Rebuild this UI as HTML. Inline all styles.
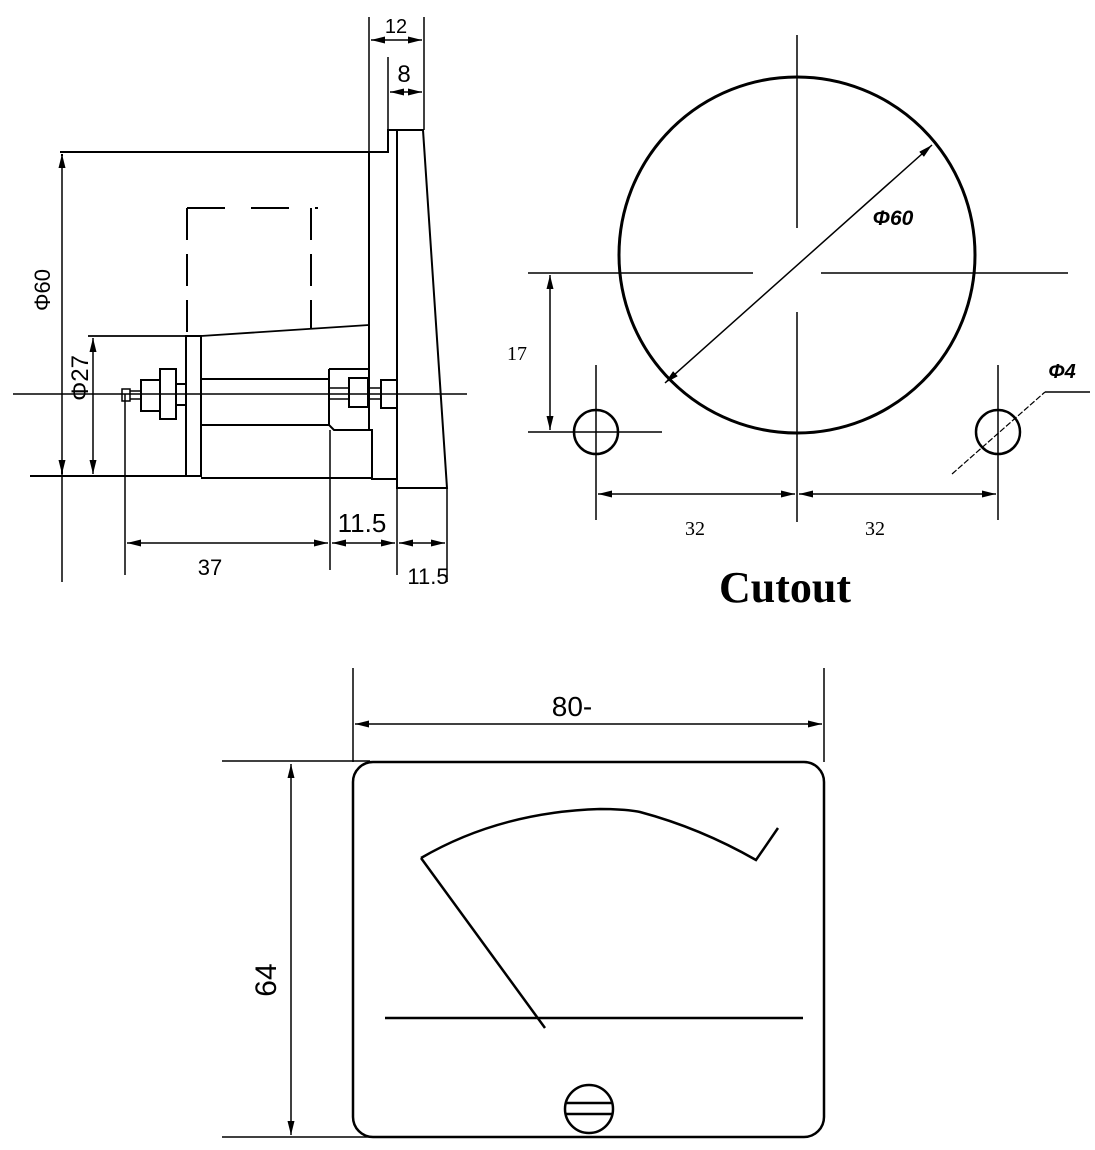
<!DOCTYPE html>
<html><head><meta charset="utf-8"><style>
html,body{margin:0;padding:0;background:#fff;}
svg{display:block;}
text{font-family:"Liberation Sans",sans-serif;fill:#000;}
</style></head><body>
<svg width="1095" height="1150" viewBox="0 0 1095 1150" xmlns="http://www.w3.org/2000/svg">
<defs>
<marker id="a" viewBox="0 0 14 10" refX="14" refY="5" markerWidth="14" markerHeight="10" orient="auto-start-reverse" markerUnits="userSpaceOnUse"><path d="M0,1.5 L14,5 L0,8.5 z" fill="#000"/></marker>
</defs>
<g stroke="#000" fill="none" stroke-width="2">
<!-- side view -->
<line x1="369" y1="17" x2="369" y2="152" stroke-width="1.5"/>
<line x1="424" y1="17" x2="424" y2="130" stroke-width="1.5"/>
<line x1="388" y1="57" x2="388" y2="130" stroke-width="1.5"/>
<line x1="371" y1="40" x2="422" y2="40" stroke-width="1.5" marker-start="url(#a)" marker-end="url(#a)"/>
<line x1="390" y1="92" x2="422" y2="92" stroke-width="1.5" marker-start="url(#a)" marker-end="url(#a)"/>
<path d="M397,130 L423,130 L447,488 L397,488 Z"/>
<path d="M60,152 L388,152 L388,130 L397,130"/>
<path d="M369,152 L369,430 L372,430 L372,479 L397,479"/>
<path d="M187,208 L318,208" stroke-dasharray="38,26"/>
<path d="M187,208 L187,336 M311,208 L311,328" stroke-dasharray="32,14"/>
<path d="M88,336 L201,336 L369,325" stroke-width="1.8"/>
<rect x="186" y="336" width="15" height="140"/>
<line x1="30" y1="476" x2="186" y2="476"/>
<line x1="201" y1="478" x2="372" y2="478"/>
<line x1="201" y1="379" x2="329" y2="379"/>
<line x1="201" y1="425" x2="329" y2="425"/>
<path d="M329,369 L368,369 M329,369 L329,425 L334,430 L369,430"/>
<rect x="349" y="378" width="19" height="29"/>
<rect x="381" y="380" width="16" height="28"/>
<path d="M329,388 L349,388 M329,399 L349,399 M368,388 L381,388 M368,399 L381,399" stroke-width="1.5"/>
<rect x="122" y="389" width="8" height="12" stroke-width="1.5"/>
<path d="M130,391 L141,391 M130,399 L141,399" stroke-width="1.5"/>
<rect x="141" y="380" width="19" height="31"/>
<rect x="160" y="369" width="16" height="50"/>
<rect x="176" y="384" width="10" height="21"/>
<line x1="13" y1="394" x2="467" y2="394" stroke-width="1.5"/>
<line x1="62" y1="154" x2="62" y2="582" stroke-width="1.5"/>
<path d="M62,154 L62,156" marker-start="url(#a)"/>
<line x1="62" y1="466" x2="62" y2="474" marker-end="url(#a)"/>
<line x1="93" y1="338" x2="93" y2="474" stroke-width="1.5" marker-start="url(#a)" marker-end="url(#a)"/>
<line x1="125" y1="394" x2="125" y2="575" stroke-width="1.5"/>
<line x1="330" y1="430" x2="330" y2="570" stroke-width="1.5"/>
<line x1="397" y1="488" x2="397" y2="575" stroke-width="1.5"/>
<line x1="447" y1="488" x2="447" y2="582" stroke-width="1.5"/>
<line x1="127" y1="543" x2="328" y2="543" stroke-width="1.5" marker-start="url(#a)" marker-end="url(#a)"/>
<line x1="332" y1="543" x2="395" y2="543" stroke-width="1.5" marker-start="url(#a)" marker-end="url(#a)"/>
<line x1="399" y1="543" x2="445" y2="543" stroke-width="1.5" marker-start="url(#a)" marker-end="url(#a)"/>

<!-- cutout -->
<circle cx="797" cy="255" r="178" stroke-width="3"/>
<line x1="797" y1="35" x2="797" y2="228" stroke-width="1.5"/>
<line x1="797" y1="312" x2="797" y2="522" stroke-width="1.5"/>
<line x1="528" y1="273" x2="753" y2="273" stroke-width="1.5"/>
<line x1="821" y1="273" x2="1068" y2="273" stroke-width="1.5"/>
<line x1="665" y1="383" x2="932" y2="145" stroke-width="1.5" marker-start="url(#a)" marker-end="url(#a)"/>
<circle cx="596" cy="432" r="22" stroke-width="2.5"/>
<circle cx="998" cy="432" r="22" stroke-width="2.5"/>
<line x1="596" y1="365" x2="596" y2="520" stroke-width="1.5"/>
<line x1="998" y1="365" x2="998" y2="520" stroke-width="1.5"/>
<line x1="528" y1="432" x2="662" y2="432" stroke-width="1.5"/>
<line x1="550" y1="275" x2="550" y2="430" stroke-width="1.5" marker-start="url(#a)" marker-end="url(#a)"/>
<line x1="598" y1="494" x2="795" y2="494" stroke-width="1.5" marker-start="url(#a)" marker-end="url(#a)"/>
<line x1="799" y1="494" x2="996" y2="494" stroke-width="1.5" marker-start="url(#a)" marker-end="url(#a)"/>
<path d="M952,474 L1045,392" stroke-width="1.2" stroke-dasharray="6,2"/>
<path d="M1045,392 L1090,392" stroke-width="1.5"/>

<!-- front view -->
<rect x="353" y="762" width="471" height="375" rx="20" stroke-width="2.5"/>
<line x1="353" y1="668" x2="353" y2="762" stroke-width="1.5"/>
<line x1="824" y1="668" x2="824" y2="762" stroke-width="1.5"/>
<line x1="355" y1="724" x2="822" y2="724" stroke-width="1.5" marker-start="url(#a)" marker-end="url(#a)"/>
<line x1="222" y1="761" x2="370" y2="761" stroke-width="1.5"/>
<line x1="222" y1="1137" x2="370" y2="1137" stroke-width="1.5"/>
<line x1="291" y1="764" x2="291" y2="1135" stroke-width="1.5" marker-start="url(#a)" marker-end="url(#a)"/>
<path d="M421,858 Q500,812 600,809 Q625,809 640,812 Q700,828 756,860 L778,828" stroke-width="2.5"/>
<line x1="421" y1="858" x2="545" y2="1028" stroke-width="2.5"/>
<line x1="385" y1="1018" x2="803" y2="1018" stroke-width="2.5"/>
<ellipse cx="589" cy="1109" rx="24" ry="24" stroke-width="2.5"/>
<path d="M566,1103 L612,1103 M566,1114 L612,1114" stroke-width="2.5"/>
</g>
<g>
<text x="396" y="33" font-size="20" text-anchor="middle">12</text>
<text x="404" y="82" font-size="24" text-anchor="middle">8</text>
<text transform="translate(50,290) rotate(-90)" font-size="22" text-anchor="middle">Φ60</text>
<text transform="translate(88,378) rotate(-90)" font-size="24" text-anchor="middle">Φ27</text>
<text x="210" y="575" font-size="22" text-anchor="middle">37</text>
<text x="362" y="532" font-size="26" text-anchor="middle">11.5</text>
<text x="428" y="584" font-size="22" text-anchor="middle">11.5</text>
<text x="893" y="225" font-size="21" font-style="italic" font-weight="bold" text-anchor="middle">Φ60</text>
<text x="1062" y="378" font-size="20" font-style="italic" font-weight="bold" text-anchor="middle">Φ4</text>
<text x="517" y="360" font-size="20" text-anchor="middle" style="font-family:'Liberation Serif',serif">17</text>
<text x="695" y="535" font-size="20" text-anchor="middle" style="font-family:'Liberation Serif',serif">32</text>
<text x="875" y="535" font-size="20" text-anchor="middle" style="font-family:'Liberation Serif',serif">32</text>
<text x="785" y="602" font-size="44" font-weight="bold" text-anchor="middle" style="font-family:'Liberation Serif',serif">Cutout</text>
<text x="572" y="716" font-size="28" text-anchor="middle">80-</text>
<text transform="translate(276,980) rotate(-90)" font-size="30" text-anchor="middle">64</text>
</g>
</svg>
</body></html>
